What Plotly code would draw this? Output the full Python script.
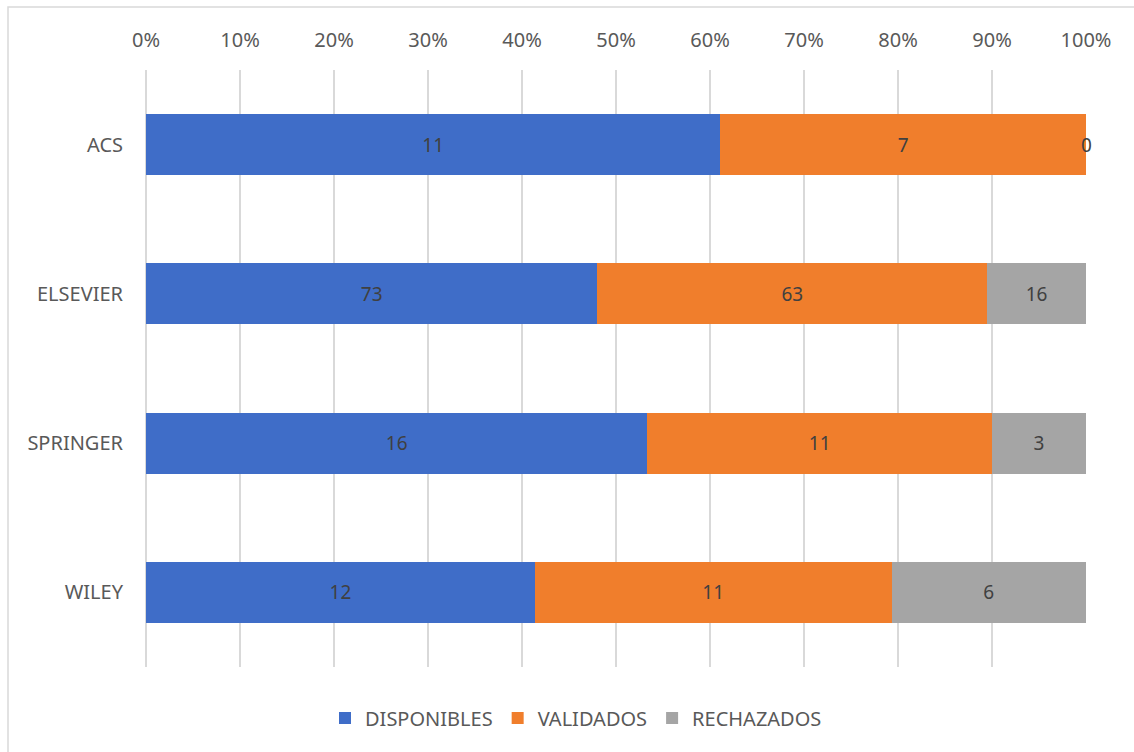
import plotly.graph_objects as go

categories = ["ACS", "ELSEVIER", "SPRINGER", "WILEY"]
disponibles = [11, 73, 16, 12]
validados = [7, 63, 11, 11]
rechazados = [0, 16, 3, 6]
tick_vals = [0, 10, 20, 30, 40, 50, 60, 70, 80, 90, 100]
tick_text = [f"{v}%" for v in tick_vals]

colors = {"DISPONIBLES": "#3F6DC8", "VALIDADOS": "#F07E2C", "RECHAZADOS": "#A5A5A5"}
series = [("DISPONIBLES", disponibles), ("VALIDADOS", validados), ("RECHAZADOS", rechazados)]

FONT = "Noto Sans"
W, H = 1134, 752
L, R, T, B = 146, 1134 - 1086, 70, 752 - 667
PW, PH = W - L - R, H - T - B
GRID = "#D9D9D9"

fig = go.Figure()
for name, vals in series:
    fig.add_trace(go.Bar(
        y=categories, x=vals, name=name, orientation="h",
        marker=dict(color=colors[name], line=dict(width=0)),
        text=[str(v) if v > 0 else "" for v in vals],
        textposition="inside", insidetextanchor="middle",
        textfont=dict(family=FONT, size=19, color="#404040"),
        width=0.41,
    ))

for cat, r in zip(categories, rechazados):
    if r == 0:
        fig.add_annotation(x=100, y=cat, text=str(r), showarrow=False,
                           xanchor="center", font=dict(family=FONT, size=19, color="#404040"))

fig.update_layout(
    width=W, height=H, autosize=False,
    barmode="stack", barnorm="percent",
    margin=dict(l=L, r=R, t=T, b=B, autoexpand=False),
    paper_bgcolor="white", plot_bgcolor="white",
    font=dict(family=FONT, size=19, color="#595959"),
    showlegend=True,
    legend=dict(orientation="h", x=(576 - 146) / PW, xanchor="center",
                y=-(718 - 667) / PH, yanchor="middle",
                font=dict(family=FONT, size=20, color="#595959"), traceorder="normal",
                itemwidth=30),
    xaxis=dict(side="top", range=[0, 100], tickvals=tick_vals, ticktext=tick_text,
               showgrid=True, gridcolor=GRID, gridwidth=1.5,
               zeroline=True, zerolinecolor=GRID, zerolinewidth=1.5,
               showline=False, ticks="", fixedrange=True, ticklabelstandoff=18,
               tickangle=0, automargin=False,
               tickfont=dict(family=FONT, size=20, color="#595959")),
    yaxis=dict(autorange="reversed", showgrid=False, zeroline=False, showline=False,
               ticks="", ticklabelstandoff=22, automargin=False, fixedrange=True,
               tickfont=dict(family=FONT, size=20, color="#595959")),
    shapes=[dict(type="rect", xref="paper", yref="paper",
                 x0=(8 - L) / PW, x1=(1145 - L) / PW,
                 y0=-(765 - 667) / PH, y1=1 + (T - 7) / PH,
                 line=dict(color=GRID, width=1.5), fillcolor="rgba(0,0,0,0)", layer="below")],
)

fig.write_html("out.html", config={"displayModeBar": False},
               post_script="document.body.style.margin='0';")
